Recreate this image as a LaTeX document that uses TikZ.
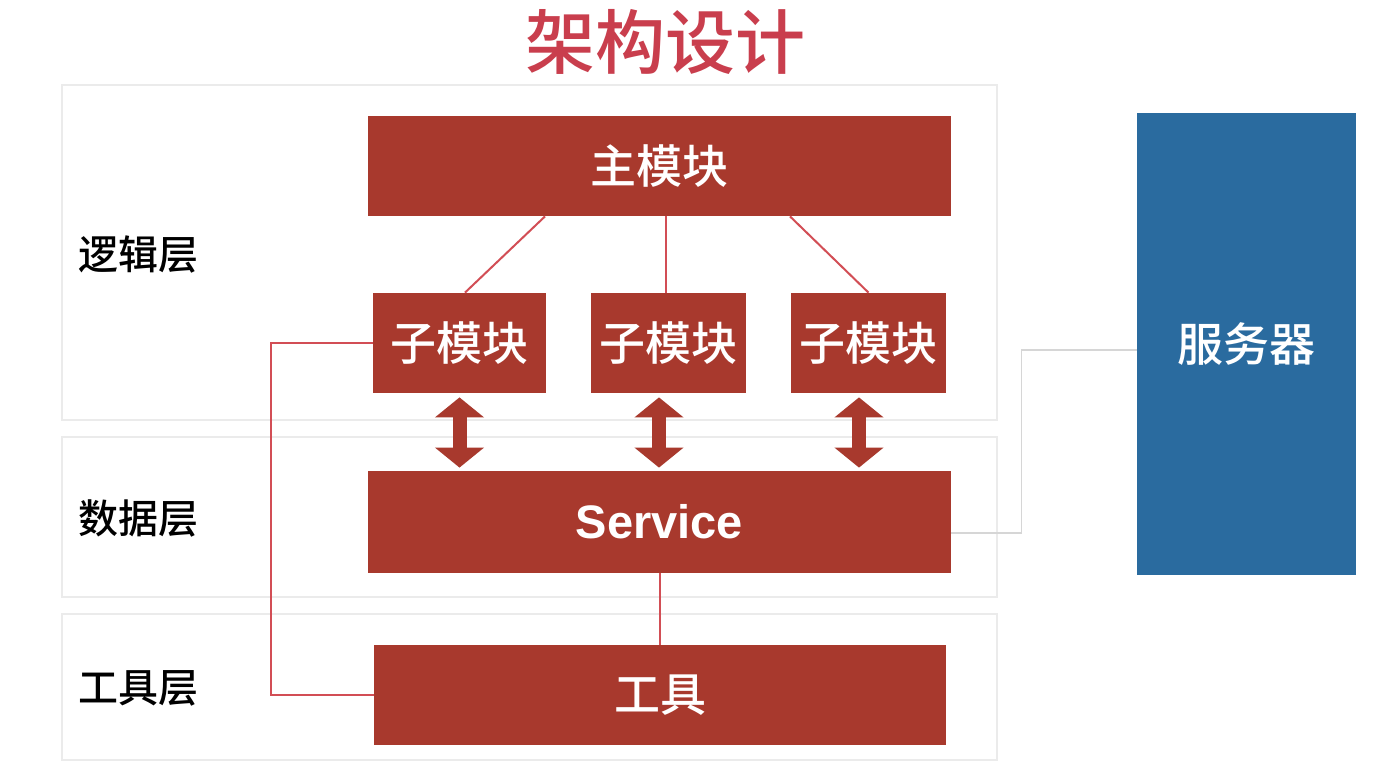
\documentclass[tikz,border=0pt]{standalone}
\usepackage{fontspec}
\setmainfont{Noto Sans CJK SC}
\newfontfamily\cjkmed{Noto Sans CJK SC Medium}
\newfontfamily\latinbold{Liberation Sans}
\usetikzlibrary{arrows.meta}
\definecolor{boxred}{HTML}{A8392D}
\definecolor{linered}{HTML}{D24E55}
\definecolor{titlered}{HTML}{C93E4D}
\definecolor{srvblue}{HTML}{2A6B9F}
\definecolor{layergray}{HTML}{EBEBEB}
\definecolor{conngray}{HTML}{D6D6D6}
\tikzset{
  layerbox/.style={draw=layergray, line width=0.8pt, fill=white, minimum width=467.5pt, inner sep=0pt},
  modbox/.style={fill=boxred, text=white, inner sep=0pt, minimum height=50pt, font=\cjkmed\fontsize{23pt}{26pt}\selectfont},
  layerlabel/.style={anchor=west, inner sep=0pt, font=\cjkmed\fontsize{20pt}{24pt}\selectfont},
  thinred/.style={draw=linered, line width=1pt},
  dblarrow/.style={draw=boxred, line width=7pt, {Triangle[width=24pt,length=10pt]}-{Triangle[width=24pt,length=10pt]}, shorten <=2pt, shorten >=1.5pt},
  grayconn/.style={draw=conngray, line width=0.7pt}
}
\begin{document}
\begin{tikzpicture}[x=0.5pt,y=-0.5pt]
\path[use as bounding box, fill=white] (0,0) rectangle (1386,770);
% title
\node[text=titlered, inner sep=0pt, font=\cjkmed\fontsize{35pt}{40pt}\selectfont] (title) at (665,42) {架构设计};
% layers
\node[layerbox, minimum height=167.5pt] (logic) at (529.5,252.5) {};
\node[layerbox, minimum height=80pt] (data) at (529.5,517) {};
\node[layerbox, minimum height=73pt] (toollayer) at (529.5,687) {};
\node[layerlabel] (l1) at (78,255) {逻辑层};
\node[layerlabel] (l2) at (78,518) {数据层};
\node[layerlabel] (l3) at (78,688) {工具层};
% modules
\node[modbox, minimum width=291.5pt] (main) at (659.5,166) {主模块};
\node[modbox, minimum width=86.5pt] (sub1) at (459.5,343) {子模块};
\node[modbox, minimum width=77.5pt] (sub2) at (668.5,343) {子模块};
\node[modbox, minimum width=77.5pt] (sub3) at (868.5,343) {子模块};
\node[modbox, minimum width=291.5pt, minimum height=51pt, font=\latinbold\fontsize{23.5pt}{26pt}\selectfont\bfseries] (service) at (659.5,522) {Service};
\node[modbox, minimum width=286pt] (tool) at (660,695) {工具};
\node[fill=srvblue, text=white, inner sep=0pt, minimum width=109.5pt, minimum height=231pt, font=\cjkmed\fontsize{23pt}{26pt}\selectfont] (server) at (1246.5,344) {服务器};
% main -> subs
\draw[thinred] ([xshift=-57.25pt]main.south) -- ([xshift=2.75pt]sub1.north);
\draw[thinred] ([xshift=3.25pt]main.south) -- ([xshift=-1.25pt]sub2.north);
\draw[thinred] ([xshift=65.25pt]main.south) -- (sub3.north);
% double arrows
\draw[dblarrow] (sub1.south) -- (sub1.south |- service.north);
\draw[dblarrow] ([xshift=-4.75pt]sub2.south) -- ([xshift=-4.75pt]sub2.south |- service.north);
\draw[dblarrow] ([xshift=-4.75pt]sub3.south) -- ([xshift=-4.75pt]sub3.south |- service.north);
% service -> tool
\draw[thinred] (service.south) -- (service.south |- tool.north);
% sub1 -> tool elbow
\draw[thinred] (sub1.west) -- ++(-102,0) |- (tool.west);
% service -> server
\draw[grayconn] ([yshift=-5.5pt]service.east) -- ++(70,0) |- ([yshift=-3pt]server.west);
\end{tikzpicture}
\end{document}
